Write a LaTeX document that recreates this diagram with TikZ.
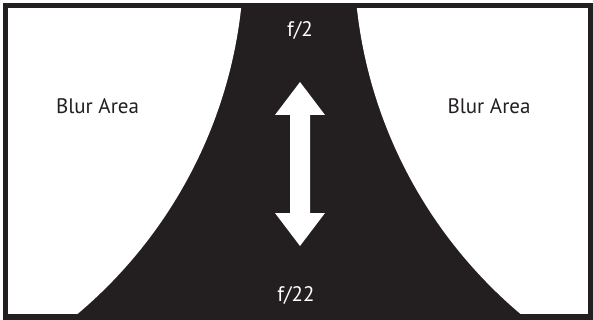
\documentclass[tikz,border=0pt]{standalone}
\usepackage{fontspec}
\setmainfont{PT Sans}
\definecolor{ink}{HTML}{231F20}
\begin{document}
\begin{tikzpicture}[x=1pt,y=-1pt,
  lbl/.style={anchor=base,inner sep=0pt,font=\fontsize{21}{24}\selectfont},
  whitelbl/.style={lbl,text=white},
  blacklbl/.style={lbl,text=ink}]
\useasboundingbox (0,0) rectangle (593,320);
\begin{scope}
  \clip (8,8) rectangle (588.5,314);
  \fill[ink] (8,8) rectangle (588.5,314);
  \fill[white] (-224,-44) circle (468pt);
  \fill[white] (822,-44) circle (468pt);
\end{scope}
\draw[ink,line width=5.5pt] (5.3,5.3) rectangle (591.2,317);
% double arrow
\fill[white] (300,82) -- (325,115) -- (310,115) -- (310,213) -- (325,213)
  -- (300,246) -- (275,213) -- (290,213) -- (290,115) -- (275,115) -- cycle;
\node[whitelbl] (ftwo) at (300,36.5) {f/2};
\node[whitelbl] (ftwentytwo) at (296,301.5) {f/22};
\node[blacklbl] (blurL) at (97.5,114) {Blur Area};
\node[blacklbl] (blurR) at (489,114) {Blur Area};
\end{tikzpicture}
\end{document}
